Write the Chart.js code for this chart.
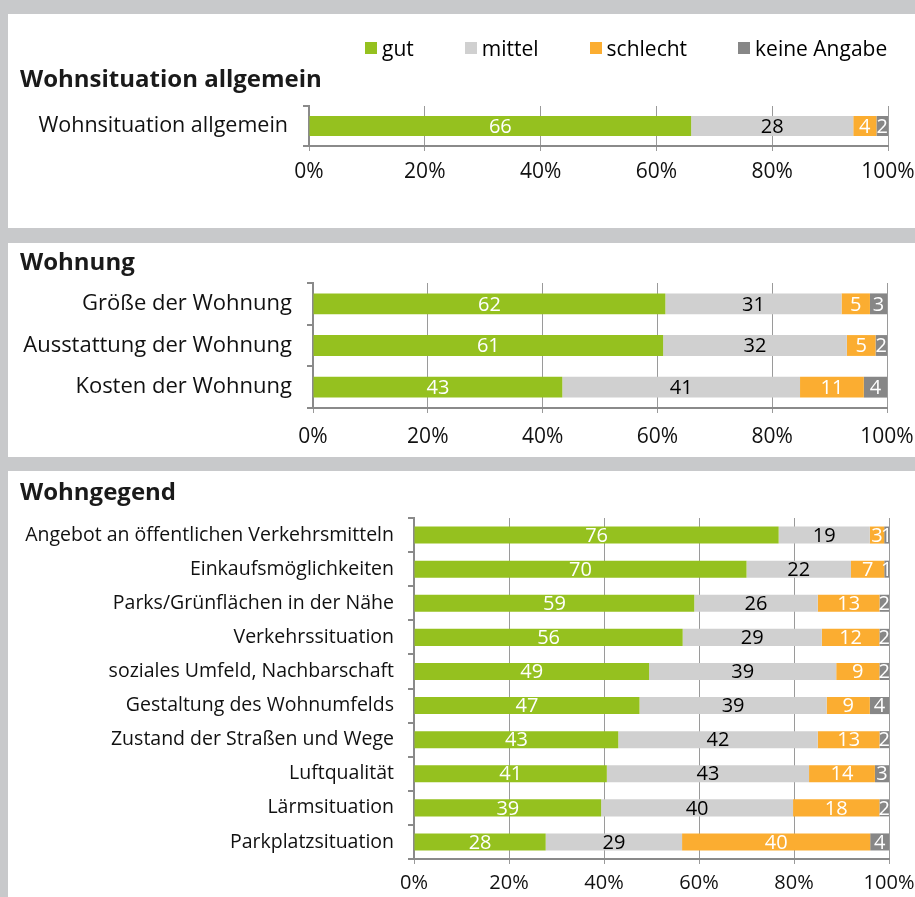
<!DOCTYPE html>
<html>
<head>
<meta charset="utf-8">
<title>Wohnsituation</title>
<script src="https://cdn.jsdelivr.net/npm/chart.js@4.4.1/dist/chart.umd.min.js"></script>
<style>
  html, body { margin: 0; padding: 0; }
  body {
    width: 915px;
    height: 897px;
    background: #c8c9cb;
    position: relative;
    overflow: hidden;
    font-family: "Open Sans", sans-serif;
  }
  .panel { position: absolute; left: 8px; width: 907px; background: #fff; }
  .panel canvas { position: absolute; left: 0; top: 0; }
  #legend {
    position: absolute;
    left: 357px;
    top: 20px;
    display: flex;
    gap: 51px;
    font-size: 21px;
    line-height: 28px;
    color: #000;
    z-index: 2;
  }
  #legend .item { display: flex; align-items: center; }
  #legend .box { width: 12px; height: 12px; margin-right: 5px; }
</style>
</head>
<body>
<div class="panel" style="top:14px;height:214px">
  <div id="legend"></div>
  <canvas id="chartAllgemein" width="907" height="214"></canvas>
</div>
<div class="panel" style="top:243px;height:214px">
  <canvas id="chartWohnung" width="907" height="214"></canvas>
</div>
<div class="panel" style="top:471px;height:426px">
  <canvas id="chartGegend" width="907" height="426"></canvas>
</div>

<script>
// section--1 data
const statusLabels = ["gut", "mittel", "schlecht", "keine Angabe"];
const statusColors = ["#95c11f", "#d0d0d0", "#fbad31", "#878787"];
const valueColors = ["#ffffff", "#000000", "#ffffff", "#ffffff"];
const xTickValues = [0, 20, 40, 60, 80, 100];

const allgemeinCats = ["Wohnsituation allgemein"];
const allgemeinGut = [66];
const allgemeinMittel = [28];
const allgemeinSchlecht = [4];
const allgemeinKeine = [2];

const wohnungCats = ["Größe der Wohnung", "Ausstattung der Wohnung", "Kosten der Wohnung"];
const wohnungGut = [62, 61, 43];
const wohnungMittel = [31, 32, 41];
const wohnungSchlecht = [5, 5, 11];
const wohnungKeine = [3, 2, 4];

const gegendCats = [
  "Angebot an öffentlichen Verkehrsmitteln",
  "Einkaufsmöglichkeiten",
  "Parks/Grünflächen in der Nähe",
  "Verkehrssituation",
  "soziales Umfeld, Nachbarschaft",
  "Gestaltung des Wohnumfelds",
  "Zustand der Straßen und Wege",
  "Luftqualität",
  "Lärmsituation",
  "Parkplatzsituation",
];
const gegendGut = [76, 70, 59, 56, 49, 47, 43, 41, 39, 28];
const gegendMittel = [19, 22, 26, 29, 39, 39, 42, 43, 40, 29];
const gegendSchlecht = [3, 7, 13, 12, 9, 9, 13, 14, 18, 40];
const gegendKeine = [1, 1, 2, 2, 2, 4, 2, 3, 2, 4];

// section--2 helpers
const FONT = "Open Sans";

// bars are drawn as shares of the row total (100% stacked), labels show the counts
function makeDatasets(series) {
  const totals = series[0].map((_, j) => series.reduce((s, arr) => s + arr[j], 0));
  return series.map((arr, i) => ({
    label: statusLabels[i],
    data: arr.map((v, j) => (v / totals[j]) * 100),
    counts: arr,
    backgroundColor: statusColors[i],
    borderWidth: 0,
    categoryPercentage: 0.5,
    barPercentage: 1,
  }));
}

// value labels in the middle of each segment
const valueLabels = {
  id: "valueLabels",
  afterDatasetsDraw(chart) {
    const ctx = chart.ctx;
    ctx.save();
    ctx.font = "20px '" + FONT + "'";
    ctx.textAlign = "center";
    ctx.textBaseline = "middle";
    chart.data.datasets.forEach((ds, i) => {
      const meta = chart.getDatasetMeta(i);
      meta.data.forEach((bar, j) => {
        ctx.fillStyle = valueColors[i];
        ctx.fillText(String(ds.counts[j]), (bar.x + bar.base) / 2, bar.y + 1);
      });
    });
    ctx.restore();
  },
};

function makeChart(id, cats, series, cfg) {
  return new Chart(document.getElementById(id), {
    type: "bar",
    data: { labels: cats, datasets: makeDatasets(series) },
    options: {
      indexAxis: "y",
      responsive: false,
      animation: false,
      layout: { padding: { left: 12, right: cfg.right, top: 0, bottom: 0 } },
      plugins: {
        legend: { display: false },
        tooltip: { enabled: false },
        title: {
          display: true,
          text: cfg.title,
          align: "start",
          color: "#1a1a1a",
          font: { family: FONT, size: 24, weight: "bold" },
          padding: { top: cfg.titleTop, bottom: cfg.titleBottom },
        },
      },
      scales: {
        x: {
          stacked: true,
          min: 0,
          max: 100,
          afterBuildTicks: (scale) => {
            scale.ticks = xTickValues.map((v) => ({ value: v }));
          },
          ticks: {
            callback: (v) => v + "%",
            color: "#111",
            font: { family: FONT, size: cfg.tickSize },
            padding: cfg.tickPad,
            maxRotation: 0,
          },
          grid: { color: "#9a9a9a", lineWidth: 1, tickLength: 5 },
          border: { color: "#8a8a8a", width: 2 },
          afterFit: (scale) => {
            scale.height = cfg.xHeight;
            // the right layout padding already leaves room for "100%"
            scale.paddingLeft = 0;
            scale.paddingRight = 0;
          },
        },
        y: {
          stacked: true,
          ticks: { color: "#111", font: { family: FONT, size: cfg.labelSize }, padding: cfg.labelPad },
          grid: { drawOnChartArea: false, tickLength: 6, color: "#8a8a8a", lineWidth: 2 },
          border: { color: "#8a8a8a", width: 2 },
          afterFit: (scale) => {
            scale.width = cfg.yWidth;
            scale.paddingTop = 0;
            scale.paddingBottom = 0;
          },
        },
      },
    },
    plugins: [valueLabels],
  });
}

// section--3 charts
const chartAllgemein = makeChart(
  "chartAllgemein",
  allgemeinCats,
  [allgemeinGut, allgemeinMittel, allgemeinSchlecht, allgemeinKeine],
  {
    title: "Wohnsituation allgemein", right: 27, yWidth: 289, xHeight: 82,
    tickSize: 21, tickPad: 8, labelSize: 21.5, labelPad: 15, titleTop: 51.6, titleBottom: 11.6,
  }
);

makeChart(
  "chartWohnung",
  wohnungCats,
  [wohnungGut, wohnungMittel, wohnungSchlecht, wohnungKeine],
  {
    title: "Wohnung", right: 28, yWidth: 293, xHeight: 49,
    tickSize: 21, tickPad: 11.4, labelSize: 22, labelPad: 15, titleTop: 5.6, titleBottom: 5.6,
  }
);

makeChart(
  "chartGegend",
  gegendCats,
  [gegendGut, gegendMittel, gegendSchlecht, gegendKeine],
  {
    title: "Wohngegend", right: 26, yWidth: 394, xHeight: 38,
    tickSize: 20, tickPad: 7.5, labelSize: 19.5, labelPad: 14, titleTop: 7.6, titleBottom: 10.6,
  }
);

// html legend built from the first chart's datasets
const legendBox = document.getElementById("legend");
chartAllgemein.data.datasets.forEach((ds) => {
  const item = document.createElement("div");
  item.className = "item";
  const box = document.createElement("span");
  box.className = "box";
  box.style.background = ds.backgroundColor;
  const text = document.createElement("span");
  text.textContent = ds.label;
  item.appendChild(box);
  item.appendChild(text);
  legendBox.appendChild(item);
});
</script>
</body>
</html>
